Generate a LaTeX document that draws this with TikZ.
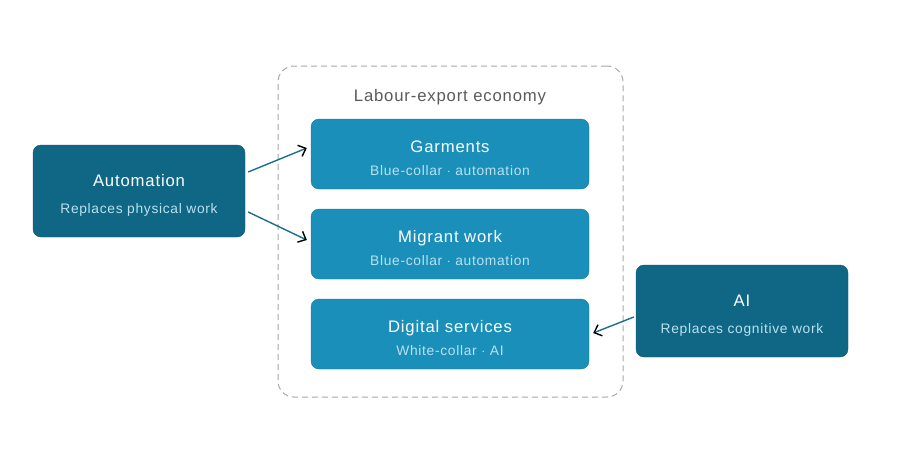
\documentclass[tikz,border=0pt]{standalone}
\usepackage{fontspec}
\setmainfont{Liberation Sans}[LetterSpace=5]
\usetikzlibrary{arrows.meta, positioning, calc}
\definecolor{sectorblue}{HTML}{1A8FBA}
\definecolor{forceblue}{HTML}{0F6785}
\definecolor{subtext}{HTML}{B9E1F0}
\definecolor{titlegray}{HTML}{5A5A5A}
\definecolor{framegray}{HTML}{A8A8A8}
\definecolor{linkblue}{HTML}{1B6F8E}
% title line with extra headroom, then the light sub line
\newcommand{\boxtext}[3]{\rule{0pt}{#3}#1\\{\fontsize{13.8}{23}\selectfont\color{subtext}#2}}

\begin{document}
\begin{tikzpicture}[
    x=1pt, y=-1pt,
    sector/.style={rectangle, rounded corners=8pt, draw=sectorblue!85!black, fill=sectorblue, minimum width=278pt, minimum height=70pt, text=white, align=center, font=\fontsize{16.7}{23}\selectfont},
    force/.style={rectangle, rounded corners=8pt, draw=forceblue!80!black, fill=forceblue, minimum width=212pt, minimum height=92pt, text=white, align=center, font=\fontsize{16.7}{27}\selectfont},
    arrow/.style={-{Straight Barb[length=6.5pt, width=12pt, color=black]}, linkblue, line width=1.4pt}
]
    \useasboundingbox (0,0) rectangle (901,450);
    \node[draw=framegray, dash pattern=on 6pt off 4pt, line width=1pt, rounded corners=16pt, minimum width=345pt, minimum height=331pt] (economy) at (450.5,231.5) {};
    \node[text=titlegray, font=\fontsize{16.7}{18}\selectfont] (economylabel) at (450,97) {Labour-export economy};

    \node[sector] (garments) at (450,154) {\boxtext{Garments}{Blue-collar $\cdot$ automation}{21pt}};
    \node[sector] (migrant) at (450,244) {\boxtext{Migrant work}{Blue-collar $\cdot$ automation}{21pt}};
    \node[sector] (digital) at (450,334) {\boxtext{Digital services}{White-collar $\cdot$ AI}{21pt}};

    \node[force] (automation) at (139,191) {\boxtext{Automation}{Replaces physical work}{20pt}};
    \node[force] (ai) at (742,311) {\boxtext{AI}{Replaces cognitive work}{20pt}};

    \draw[arrow] ([xshift=3pt, yshift=19pt]automation.east) -- ([xshift=-4pt, yshift=6pt]garments.west);
    \draw[arrow] ([xshift=3pt, yshift=-21pt]automation.east) -- ([xshift=-4pt, yshift=4pt]migrant.west);
    \draw[arrow] ([xshift=-2pt, yshift=-6pt]ai.west) -- ([xshift=4pt, yshift=1pt]digital.east);
\end{tikzpicture}
\end{document}
